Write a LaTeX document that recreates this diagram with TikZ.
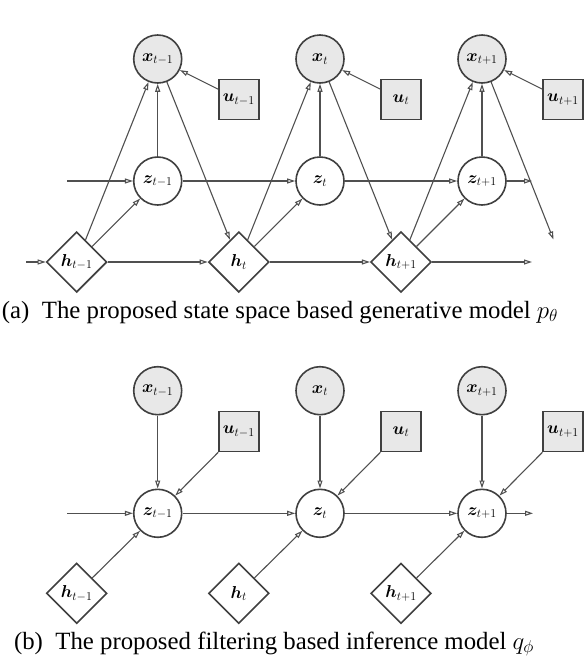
\documentclass[tikz,border=0pt]{standalone}
\usepackage{fontspec}
\setmainfont{Liberation Serif}
\usepackage{bm}
\usetikzlibrary{arrows.meta,shapes.geometric}
\definecolor{edgec}{HTML}{505050}
\definecolor{nodec}{HTML}{404040}
\definecolor{obsfill}{HTML}{E8E8E8}
\begin{document}
\begin{tikzpicture}[x=1pt,y=-1pt,
  lab/.style={font=\fontsize{16.5}{19}\selectfont},
  latent/.style={circle,draw=nodec,line width=1.6pt,minimum size=48pt,inner sep=0pt,fill=white,lab},
  obs/.style={latent,fill=obsfill},
  inp/.style={rectangle,draw=nodec,line width=1.6pt,minimum size=40pt,inner sep=0pt,fill=obsfill,lab},
  det/.style={diamond,aspect=1,draw=nodec,line width=1.6pt,minimum size=60.5pt,inner sep=0pt,fill=white,lab},
  edge/.style={draw=edgec,line width=1.1pt,-{Triangle[open,length=8pt,width=5pt]}},
  captext/.style={font=\fontsize{24.8}{28}\selectfont,anchor=base}
]
\useasboundingbox (0,0) rectangle (584,662);
% ---------- (a) generative model ----------
\node[obs] (x1) at (157.7,59) {$\bm{x}_{t-1}$};
\node[obs] (x2) at (320,59) {$\bm{x}_{t}$};
\node[obs] (x3) at (482,59) {$\bm{x}_{t+1}$};
\node[inp] (u1) at (238.8,99.5) {$\bm{u}_{t-1}$};
\node[inp] (u2) at (401,99.5) {$\bm{u}_{t}$};
\node[inp] (u3) at (563,99.5) {$\bm{u}_{t+1}$};
\node[latent] (z1) at (157.7,181) {$\bm{z}_{t-1}$};
\node[latent] (z2) at (320,181) {$\bm{z}_{t}$};
\node[latent] (z3) at (482,181) {$\bm{z}_{t+1}$};
\node[det] (h1) at (76.7,262) {$\bm{h}_{t-1}$};
\node[det] (h2) at (238.8,262) {$\bm{h}_{t}$};
\node[det] (h3) at (401,262) {$\bm{h}_{t+1}$};
\coordinate (hin) at (26,262);
\coordinate (hout) at (532,262);
\coordinate (zin) at (67,181);
\coordinate (zout) at (532,181);
\coordinate (xout) at (553.5,239.5);
\draw[edge] (hin) -- (h1);
\draw[edge] (h1) -- (h2);
\draw[edge] (h2) -- (h3);
\draw[edge] (h3) -- (hout);
\draw[edge] (zin) -- (z1);
\draw[edge] (z1) -- (z2);
\draw[edge] (z2) -- (z3);
\draw[edge] (z3) -- (zout);
\foreach \i in {1,2,3}{
  \draw[edge] (z\i) -- (x\i);
  \draw[edge] (h\i) -- (x\i);
  \draw[edge] (h\i) -- (z\i);
  \draw[edge] (u\i) -- (x\i);
}
\draw[edge] (x1) -- (h2);
\draw[edge] (x2) -- (h3);
\draw[edge] (x3) -- (xout);
\node[captext] (capa) at (280,318) {(a)\enspace The proposed state space based generative model $p_\theta$};
% ---------- (b) inference model ----------
\node[obs] (bx1) at (157.7,390.7) {$\bm{x}_{t-1}$};
\node[obs] (bx2) at (320,390.7) {$\bm{x}_{t}$};
\node[obs] (bx3) at (482,390.7) {$\bm{x}_{t+1}$};
\node[inp] (bu1) at (238.8,431.5) {$\bm{u}_{t-1}$};
\node[inp] (bu2) at (401,431.5) {$\bm{u}_{t}$};
\node[inp] (bu3) at (563,431.5) {$\bm{u}_{t+1}$};
\node[latent] (bz1) at (157.7,513.3) {$\bm{z}_{t-1}$};
\node[latent] (bz2) at (320,513.3) {$\bm{z}_{t}$};
\node[latent] (bz3) at (482,513.3) {$\bm{z}_{t+1}$};
\node[det] (bh1) at (76.7,593.3) {$\bm{h}_{t-1}$};
\node[det] (bh2) at (238.8,593.3) {$\bm{h}_{t}$};
\node[det] (bh3) at (401,593.3) {$\bm{h}_{t+1}$};
\coordinate (bzin) at (67,513.3);
\coordinate (bzout) at (533,513.3);
\draw[edge] (bzin) -- (bz1);
\draw[edge] (bz1) -- (bz2);
\draw[edge] (bz2) -- (bz3);
\draw[edge] (bz3) -- (bzout);
\foreach \i in {1,2,3}{
  \draw[edge] (bx\i) -- (bz\i);
  \draw[edge] (bu\i) -- (bz\i);
  \draw[edge] (bh\i) -- (bz\i);
}
\node[captext] (capb) at (274,649) {(b)\enspace The proposed filtering based inference model $q_\phi$};
\end{tikzpicture}
\end{document}
